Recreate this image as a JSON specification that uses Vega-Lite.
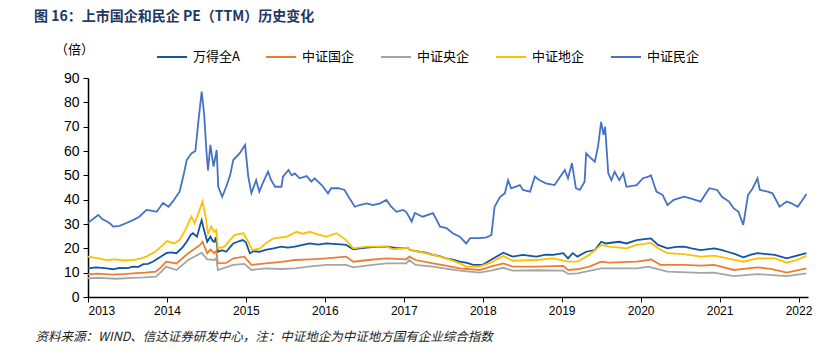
{
  "$schema": "https://vega.github.io/schema/vega-lite/v6.json",
  "width": 720,
  "height": 219,
  "autosize": {"type": "none"},
  "padding": {"left": 88, "top": 78, "right": 17, "bottom": 62},
  "background": "white",
  "title": {
    "text": "图 16：上市国企和民企 PE（TTM）历史变化",
    "anchor": "start",
    "frame": "group",
    "dx": -54,
    "offset": 17,
    "font": "Noto Sans CJK SC",
    "fontSize": 14,
    "fontWeight": "bold",
    "color": "#1F3864"
  },
  "datasets": {
    "A": [
      {"t":2013.00,"v":11.8},{"t":2013.10,"v":12.2},{"t":2013.24,"v":11.8},{"t":2013.32,"v":11.4},{"t":2013.40,"v":12.0},{"t":2013.50,"v":11.9},{"t":2013.57,"v":12.5},{"t":2013.64,"v":12.4},{"t":2013.70,"v":13.5},{"t":2013.76,"v":13.6},{"t":2013.82,"v":14.5},{"t":2013.92,"v":16.5},{"t":2013.99,"v":18.0},{"t":2014.05,"v":18.3},{"t":2014.12,"v":18.0},{"t":2014.20,"v":20.5},{"t":2014.25,"v":22.7},{"t":2014.30,"v":25.5},{"t":2014.33,"v":26.2},{"t":2014.38,"v":24.8},{"t":2014.42,"v":29.5},{"t":2014.44,"v":31.6},{"t":2014.47,"v":27.5},{"t":2014.51,"v":22.7},{"t":2014.55,"v":24.8},{"t":2014.58,"v":23.0},{"t":2014.60,"v":22.7},{"t":2014.62,"v":24.5},{"t":2014.645,"v":18.6},{"t":2014.70,"v":19.2},{"t":2014.75,"v":18.6},{"t":2014.80,"v":20.5},{"t":2014.84,"v":22.0},{"t":2014.92,"v":23.0},{"t":2014.96,"v":23.4},{"t":2015.00,"v":22.5},{"t":2015.05,"v":18.0},{"t":2015.10,"v":18.8},{"t":2015.17,"v":18.6},{"t":2015.25,"v":19.4},{"t":2015.35,"v":20.0},{"t":2015.45,"v":20.7},{"t":2015.53,"v":20.3},{"t":2015.62,"v":20.7},{"t":2015.72,"v":21.4},{"t":2015.81,"v":22.0},{"t":2015.92,"v":21.5},{"t":2016.02,"v":22.0},{"t":2016.10,"v":21.8},{"t":2016.20,"v":21.6},{"t":2016.27,"v":21.4},{"t":2016.36,"v":19.6},{"t":2016.45,"v":20.0},{"t":2016.53,"v":20.3},{"t":2016.65,"v":20.6},{"t":2016.78,"v":20.7},{"t":2016.90,"v":20.2},{"t":2016.99,"v":20.0},{"t":2017.05,"v":20.3},{"t":2017.08,"v":19.3},{"t":2017.20,"v":18.6},{"t":2017.28,"v":18.2},{"t":2017.37,"v":17.3},{"t":2017.45,"v":16.8},{"t":2017.54,"v":15.9},{"t":2017.62,"v":15.4},{"t":2017.71,"v":14.5},{"t":2017.80,"v":14.0},{"t":2017.88,"v":13.2},{"t":2018.00,"v":13.2},{"t":2018.10,"v":15.2},{"t":2018.26,"v":18.2},{"t":2018.38,"v":16.6},{"t":2018.51,"v":17.3},{"t":2018.60,"v":16.9},{"t":2018.68,"v":16.6},{"t":2018.80,"v":17.4},{"t":2018.89,"v":17.3},{"t":2019.02,"v":18.0},{"t":2019.08,"v":15.9},{"t":2019.14,"v":18.0},{"t":2019.20,"v":16.6},{"t":2019.31,"v":18.6},{"t":2019.42,"v":19.3},{"t":2019.50,"v":22.7},{"t":2019.56,"v":22.0},{"t":2019.65,"v":22.4},{"t":2019.73,"v":22.7},{"t":2019.82,"v":22.0},{"t":2019.95,"v":23.4},{"t":2020.05,"v":23.8},{"t":2020.13,"v":24.1},{"t":2020.22,"v":21.4},{"t":2020.34,"v":20.0},{"t":2020.45,"v":20.6},{"t":2020.55,"v":20.7},{"t":2020.66,"v":19.9},{"t":2020.76,"v":19.3},{"t":2020.93,"v":20.0},{"t":2021.02,"v":19.4},{"t":2021.10,"v":18.6},{"t":2021.20,"v":17.6},{"t":2021.30,"v":16.3},{"t":2021.40,"v":17.4},{"t":2021.48,"v":18.0},{"t":2021.60,"v":17.6},{"t":2021.70,"v":17.3},{"t":2021.85,"v":15.9},{"t":2021.98,"v":17.0},{"t":2022.10,"v":18.0}
    ],
    "G": [
      {"t":2013.00,"v":9.3},{"t":2013.12,"v":9.6},{"t":2013.30,"v":9.2},{"t":2013.45,"v":9.4},{"t":2013.57,"v":9.7},{"t":2013.72,"v":10.0},{"t":2013.86,"v":10.4},{"t":2013.93,"v":12.4},{"t":2013.99,"v":14.5},{"t":2014.12,"v":13.8},{"t":2014.27,"v":18.0},{"t":2014.42,"v":21.4},{"t":2014.45,"v":22.7},{"t":2014.51,"v":18.0},{"t":2014.55,"v":19.5},{"t":2014.60,"v":18.0},{"t":2014.625,"v":19.0},{"t":2014.645,"v":13.8},{"t":2014.75,"v":14.0},{"t":2014.84,"v":15.9},{"t":2014.98,"v":16.6},{"t":2015.07,"v":13.2},{"t":2015.25,"v":13.8},{"t":2015.45,"v":14.4},{"t":2015.62,"v":15.2},{"t":2015.82,"v":15.5},{"t":2016.02,"v":15.9},{"t":2016.27,"v":16.6},{"t":2016.36,"v":14.5},{"t":2016.55,"v":15.2},{"t":2016.78,"v":15.9},{"t":2017.03,"v":15.5},{"t":2017.07,"v":16.6},{"t":2017.15,"v":15.2},{"t":2017.37,"v":13.8},{"t":2017.55,"v":12.8},{"t":2017.71,"v":11.8},{"t":2017.96,"v":11.1},{"t":2018.10,"v":12.5},{"t":2018.26,"v":13.8},{"t":2018.38,"v":12.5},{"t":2018.68,"v":12.5},{"t":2019.02,"v":12.8},{"t":2019.08,"v":11.1},{"t":2019.20,"v":11.4},{"t":2019.35,"v":12.5},{"t":2019.50,"v":14.5},{"t":2019.60,"v":14.1},{"t":2019.95,"v":14.5},{"t":2020.10,"v":15.2},{"t":2020.13,"v":15.5},{"t":2020.25,"v":13.2},{"t":2020.55,"v":13.2},{"t":2020.76,"v":12.9},{"t":2020.93,"v":13.2},{"t":2021.18,"v":11.1},{"t":2021.48,"v":12.2},{"t":2021.65,"v":11.6},{"t":2021.85,"v":10.0},{"t":2022.10,"v":11.8}
    ],
    "Y": [
      {"t":2013.00,"v":7.7},{"t":2013.15,"v":7.9},{"t":2013.35,"v":7.5},{"t":2013.57,"v":7.9},{"t":2013.72,"v":8.1},{"t":2013.86,"v":8.4},{"t":2013.93,"v":10.4},{"t":2013.99,"v":12.5},{"t":2014.12,"v":11.1},{"t":2014.27,"v":15.2},{"t":2014.44,"v":18.2},{"t":2014.51,"v":15.5},{"t":2014.60,"v":15.2},{"t":2014.625,"v":16.0},{"t":2014.645,"v":11.1},{"t":2014.84,"v":13.2},{"t":2014.98,"v":13.6},{"t":2015.07,"v":11.1},{"t":2015.25,"v":11.8},{"t":2015.45,"v":11.5},{"t":2015.62,"v":11.8},{"t":2015.82,"v":12.6},{"t":2016.02,"v":13.2},{"t":2016.27,"v":13.2},{"t":2016.36,"v":12.2},{"t":2016.55,"v":13.0},{"t":2016.78,"v":13.8},{"t":2017.03,"v":13.8},{"t":2017.07,"v":15.2},{"t":2017.15,"v":13.2},{"t":2017.37,"v":12.5},{"t":2017.55,"v":11.6},{"t":2017.71,"v":10.8},{"t":2017.96,"v":10.0},{"t":2018.10,"v":10.8},{"t":2018.26,"v":12.0},{"t":2018.38,"v":10.8},{"t":2018.70,"v":11.0},{"t":2019.02,"v":10.8},{"t":2019.08,"v":9.5},{"t":2019.20,"v":9.7},{"t":2019.50,"v":11.8},{"t":2019.95,"v":11.8},{"t":2020.10,"v":12.5},{"t":2020.13,"v":12.2},{"t":2020.34,"v":10.4},{"t":2020.76,"v":9.9},{"t":2020.93,"v":10.0},{"t":2021.18,"v":8.6},{"t":2021.48,"v":9.4},{"t":2021.85,"v":8.6},{"t":2022.10,"v":9.7}
    ],
    "D": [
      {"t":2013.00,"v":16.6},{"t":2013.13,"v":15.9},{"t":2013.24,"v":15.2},{"t":2013.35,"v":15.5},{"t":2013.45,"v":15.0},{"t":2013.57,"v":15.2},{"t":2013.66,"v":15.8},{"t":2013.74,"v":16.6},{"t":2013.85,"v":18.6},{"t":2013.92,"v":20.5},{"t":2014.00,"v":23.0},{"t":2014.09,"v":22.0},{"t":2014.16,"v":23.4},{"t":2014.23,"v":27.5},{"t":2014.27,"v":30.3},{"t":2014.31,"v":33.0},{"t":2014.35,"v":30.3},{"t":2014.42,"v":36.4},{"t":2014.45,"v":39.2},{"t":2014.49,"v":33.0},{"t":2014.52,"v":26.0},{"t":2014.56,"v":29.0},{"t":2014.60,"v":26.8},{"t":2014.625,"v":27.5},{"t":2014.645,"v":20.0},{"t":2014.73,"v":20.7},{"t":2014.80,"v":23.5},{"t":2014.86,"v":25.5},{"t":2014.97,"v":26.2},{"t":2015.03,"v":22.7},{"t":2015.08,"v":19.3},{"t":2015.18,"v":20.0},{"t":2015.26,"v":22.3},{"t":2015.35,"v":24.1},{"t":2015.52,"v":24.8},{"t":2015.64,"v":26.8},{"t":2015.72,"v":26.0},{"t":2015.81,"v":26.8},{"t":2015.92,"v":25.6},{"t":2016.02,"v":24.8},{"t":2016.15,"v":26.2},{"t":2016.27,"v":23.4},{"t":2016.36,"v":20.0},{"t":2016.53,"v":20.7},{"t":2016.78,"v":20.7},{"t":2016.87,"v":19.6},{"t":2016.99,"v":20.0},{"t":2017.05,"v":20.3},{"t":2017.08,"v":19.3},{"t":2017.20,"v":18.6},{"t":2017.37,"v":17.3},{"t":2017.54,"v":15.9},{"t":2017.71,"v":13.8},{"t":2017.79,"v":12.5},{"t":2017.96,"v":12.5},{"t":2018.10,"v":14.1},{"t":2018.26,"v":16.9},{"t":2018.38,"v":14.9},{"t":2018.68,"v":15.2},{"t":2018.89,"v":15.9},{"t":2019.08,"v":14.5},{"t":2019.20,"v":14.5},{"t":2019.35,"v":17.3},{"t":2019.50,"v":21.4},{"t":2019.60,"v":20.7},{"t":2019.82,"v":20.0},{"t":2019.95,"v":21.4},{"t":2020.05,"v":21.8},{"t":2020.13,"v":22.2},{"t":2020.22,"v":20.0},{"t":2020.34,"v":18.0},{"t":2020.55,"v":17.6},{"t":2020.76,"v":16.6},{"t":2020.93,"v":17.0},{"t":2021.10,"v":15.9},{"t":2021.30,"v":14.5},{"t":2021.48,"v":15.9},{"t":2021.70,"v":15.9},{"t":2021.85,"v":14.1},{"t":2021.98,"v":15.2},{"t":2022.10,"v":16.9}
    ],
    "M": [
      {"t":2013.00,"v":30.4},{"t":2013.04,"v":31.5},{"t":2013.08,"v":32.5},{"t":2013.13,"v":33.7},{"t":2013.18,"v":32.0},{"t":2013.24,"v":31.0},{"t":2013.28,"v":30.2},{"t":2013.32,"v":28.9},{"t":2013.40,"v":29.2},{"t":2013.48,"v":30.3},{"t":2013.57,"v":31.6},{"t":2013.65,"v":33.0},{"t":2013.74,"v":35.8},{"t":2013.80,"v":35.5},{"t":2013.87,"v":35.0},{"t":2013.95,"v":38.6},{"t":2014.02,"v":37.1},{"t":2014.08,"v":39.5},{"t":2014.16,"v":43.3},{"t":2014.21,"v":50.0},{"t":2014.25,"v":56.3},{"t":2014.31,"v":59.0},{"t":2014.36,"v":60.0},{"t":2014.40,"v":72.7},{"t":2014.44,"v":84.4},{"t":2014.47,"v":75.6},{"t":2014.50,"v":60.0},{"t":2014.52,"v":52.0},{"t":2014.55,"v":62.5},{"t":2014.59,"v":53.6},{"t":2014.63,"v":60.4},{"t":2014.65,"v":45.3},{"t":2014.70,"v":41.2},{"t":2014.75,"v":45.3},{"t":2014.80,"v":50.0},{"t":2014.84,"v":56.3},{"t":2014.92,"v":59.0},{"t":2014.99,"v":62.5},{"t":2015.03,"v":49.5},{"t":2015.07,"v":42.7},{"t":2015.13,"v":48.0},{"t":2015.17,"v":43.3},{"t":2015.21,"v":46.5},{"t":2015.28,"v":51.5},{"t":2015.32,"v":48.0},{"t":2015.37,"v":45.3},{"t":2015.45,"v":45.3},{"t":2015.47,"v":49.5},{"t":2015.54,"v":52.2},{"t":2015.58,"v":50.0},{"t":2015.62,"v":50.8},{"t":2015.68,"v":48.8},{"t":2015.77,"v":49.7},{"t":2015.83,"v":47.4},{"t":2015.87,"v":48.8},{"t":2015.96,"v":46.0},{"t":2016.04,"v":42.6},{"t":2016.08,"v":44.7},{"t":2016.17,"v":44.7},{"t":2016.25,"v":44.0},{"t":2016.30,"v":41.2},{"t":2016.38,"v":37.1},{"t":2016.44,"v":37.8},{"t":2016.53,"v":38.5},{"t":2016.61,"v":37.8},{"t":2016.70,"v":38.5},{"t":2016.78,"v":39.9},{"t":2016.84,"v":37.1},{"t":2016.91,"v":35.0},{"t":2016.99,"v":35.8},{"t":2017.03,"v":35.0},{"t":2017.10,"v":31.0},{"t":2017.14,"v":34.5},{"t":2017.24,"v":33.0},{"t":2017.37,"v":34.5},{"t":2017.46,"v":28.9},{"t":2017.54,"v":28.3},{"t":2017.62,"v":26.2},{"t":2017.71,"v":24.8},{"t":2017.79,"v":22.0},{"t":2017.84,"v":24.2},{"t":2017.96,"v":24.2},{"t":2018.05,"v":24.5},{"t":2018.11,"v":25.5},{"t":2018.15,"v":37.1},{"t":2018.22,"v":41.2},{"t":2018.28,"v":42.6},{"t":2018.32,"v":48.0},{"t":2018.36,"v":44.7},{"t":2018.47,"v":46.0},{"t":2018.51,"v":44.0},{"t":2018.60,"v":43.3},{"t":2018.66,"v":49.5},{"t":2018.72,"v":48.0},{"t":2018.80,"v":46.7},{"t":2018.91,"v":46.0},{"t":2019.04,"v":52.2},{"t":2019.08,"v":48.8},{"t":2019.13,"v":55.0},{"t":2019.18,"v":44.7},{"t":2019.23,"v":44.0},{"t":2019.29,"v":47.4},{"t":2019.31,"v":59.0},{"t":2019.35,"v":57.7},{"t":2019.42,"v":55.6},{"t":2019.46,"v":61.8},{"t":2019.50,"v":72.0},{"t":2019.53,"v":66.6},{"t":2019.55,"v":70.0},{"t":2019.59,"v":50.8},{"t":2019.63,"v":48.0},{"t":2019.67,"v":51.5},{"t":2019.73,"v":48.0},{"t":2019.78,"v":50.8},{"t":2019.82,"v":45.3},{"t":2019.95,"v":46.0},{"t":2020.03,"v":48.8},{"t":2020.10,"v":49.5},{"t":2020.13,"v":50.0},{"t":2020.20,"v":43.3},{"t":2020.28,"v":41.9},{"t":2020.34,"v":37.8},{"t":2020.42,"v":39.9},{"t":2020.55,"v":41.2},{"t":2020.63,"v":40.5},{"t":2020.76,"v":39.2},{"t":2020.87,"v":44.7},{"t":2020.97,"v":44.0},{"t":2021.03,"v":41.2},{"t":2021.12,"v":39.2},{"t":2021.18,"v":36.4},{"t":2021.24,"v":35.0},{"t":2021.30,"v":29.6},{"t":2021.36,"v":41.9},{"t":2021.42,"v":44.7},{"t":2021.48,"v":48.8},{"t":2021.51,"v":44.0},{"t":2021.61,"v":43.3},{"t":2021.67,"v":42.6},{"t":2021.76,"v":37.1},{"t":2021.85,"v":39.2},{"t":2021.91,"v":38.5},{"t":2021.99,"v":37.1},{"t":2022.05,"v":39.9},{"t":2022.10,"v":42.3}
    ]
  },
  "encoding": {
    "x": {
      "field": "t",
      "type": "quantitative",
      "scale": {"domain": [2013, 2022.12], "nice": false, "zero": false},
      "axis": {
        "values": [2013, 2014, 2015, 2016, 2017, 2018, 2019, 2020, 2021, 2022],
        "format": "d",
        "grid": false,
        "domainColor": "#000000",
        "domainWidth": 1.5,
        "tickColor": "#000000",
        "tickSize": 5,
        "labelFont": "Liberation Sans",
        "labelFontSize": 12,
        "labelColor": "#000000",
        "labelPadding": 3,
        "title": "资料来源：WIND、信达证券研发中心，注：中证地企为中证地方国有企业综合指数",
        "titleFont": "Noto Sans CJK SC",
        "titleFontSize": 12.5,
        "titleFontStyle": "italic",
        "titleFontWeight": "normal",
        "titleColor": "#222222",
        "titleAnchor": "start",
        "titleAlign": "left",
        "titleBaseline": "middle",
        "titleX": -53,
        "titleY": 39
      }
    },
    "y": {
      "field": "v",
      "type": "quantitative",
      "scale": {"domain": [0, 90], "nice": false},
      "axis": {
        "values": [0, 10, 20, 30, 40, 50, 60, 70, 80, 90],
        "grid": false,
        "domainColor": "#000000",
        "domainWidth": 1.5,
        "tickColor": "#000000",
        "tickSize": 5,
        "labelFont": "Liberation Sans",
        "labelFontSize": 14,
        "labelColor": "#000000",
        "labelPadding": 4,
        "title": "（倍）",
        "titleFont": "Noto Sans CJK SC",
        "titleFontSize": 13,
        "titleFontWeight": "normal",
        "titleColor": "#000000",
        "titleAngle": 0,
        "titleAlign": "center",
        "titleBaseline": "middle",
        "titleX": -14,
        "titleY": -29
      }
    }
  },
  "layer": [
    {"data": {"name": "A"}, "mark": {"type": "line", "strokeWidth": 1.8}, "encoding": {"color": {"datum": "万得全A", "type": "nominal", "scale": {"domain": ["万得全A", "中证国企", "中证央企", "中证地企", "中证民企"], "range": ["#15559E", "#ED7D31", "#A5A5A5", "#FFC000", "#4472C4"]}, "legend": {"orient": "none", "legendX": 68, "legendY": -37, "direction": "horizontal", "padding": 0, "title": null, "symbolType": "stroke", "symbolSize": 900, "symbolStrokeWidth": 2, "labelFont": "Noto Sans CJK SC", "labelFontSize": 13, "labelColor": "#000000", "labelOffset": 5, "columnPadding": 22}}}},
    {"data": {"name": "G"}, "mark": {"type": "line", "strokeWidth": 1.8}, "encoding": {"color": {"datum": "中证国企", "type": "nominal"}}},
    {"data": {"name": "Y"}, "mark": {"type": "line", "strokeWidth": 1.8}, "encoding": {"color": {"datum": "中证央企", "type": "nominal"}}},
    {"data": {"name": "D"}, "mark": {"type": "line", "strokeWidth": 1.8}, "encoding": {"color": {"datum": "中证地企", "type": "nominal"}}},
    {"data": {"name": "M"}, "mark": {"type": "line", "strokeWidth": 1.8}, "encoding": {"color": {"datum": "中证民企", "type": "nominal"}}}
  ],
  "config": {"view": {"stroke": null}}
}
